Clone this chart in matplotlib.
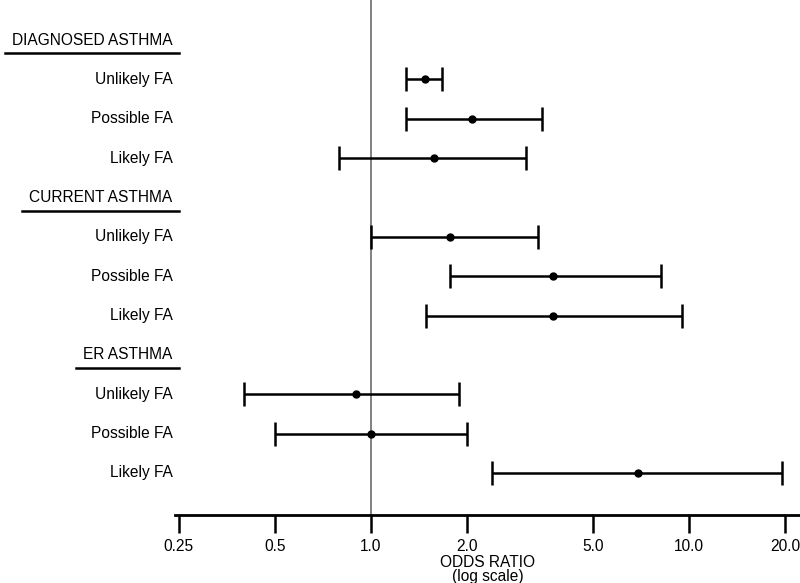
import matplotlib.pyplot as plt
from matplotlib.lines import Line2D

plt.rcParams['font.family'] = ['Liberation Sans', 'DejaVu Sans']

# datos (odds ratio e intervalo de confianza)
grupos = ["DIAGNOSED ASTHMA", "CURRENT ASTHMA", "ER ASTHMA"]
categorias = ["Unlikely FA", "Possible FA", "Likely FA"]
odds = [[1.48, 2.08, 1.58],
        [1.78, 3.73, 3.73],
        [0.90, 1.00, 6.89]]
ic_inf = [[1.29, 1.29, 0.795],
          [1.00, 1.78, 1.49],
          [0.40, 0.50, 2.40]]
ic_sup = [[1.68, 3.45, 3.07],
          [3.35, 8.15, 9.53],
          [1.90, 2.00, 19.6]]
ticks = [0.25, 0.5, 1.0, 2.0, 5.0, 10.0, 20.0]
tick_labels = ["0.25", "0.5", "1.0", "2.0", "5.0", "10.0", "20.0"]

fs = 11.2

fig = plt.figure(figsize=(8, 5.83), dpi=100)
ax = fig.add_axes([175 / 800, 1 - 515 / 583, 625 / 800, 515 / 583])
ax.set_xscale('log')
ax.set_xlim(0.243, 22.3)
ax.set_ylim(12.07, -1.02)

ax.axvline(1.0, color='#777777', lw=1.3, zorder=1)

posiciones = []
for g in range(3):
    for c in range(3):
        y = g * 4 + c + 1
        o = odds[g][c]
        ax.errorbar(o, y, xerr=[[o - ic_inf[g][c]], [ic_sup[g][c] - o]],
                    fmt='o', color='black', ms=5, lw=1.8, capsize=8.5,
                    capthick=1.8, zorder=3)
        posiciones.append((y, categorias[c]))

for y, txt in posiciones:
    ax.text(-0.004, y, txt, transform=ax.get_yaxis_transform(),
            ha='right', va='center', fontsize=fs)

# encabezados subrayados
fig.canvas.draw()
renderer = fig.canvas.get_renderer()
for g in range(3):
    y = g * 4
    t = ax.text(-0.004, y, grupos[g], transform=ax.get_yaxis_transform(),
                ha='right', va='center', fontsize=fs)
    bb = t.get_window_extent(renderer)
    x0 = max(bb.x0 - 7, 0)
    x1 = 179
    ypix = ax.transData.transform((1, y))[1] - 13
    fig.add_artist(Line2D([x0 / 800, x1 / 800], [ypix / 583, ypix / 583],
                          transform=fig.transFigure, color='black', lw=1.8))

ax.set_xticks(ticks)
ax.set_xticklabels(tick_labels, fontsize=fs)
ax.minorticks_off()
ax.set_yticks([])
for s in ['top', 'right', 'left']:
    ax.spines[s].set_visible(False)
ax.spines['bottom'].set_linewidth(2)
ax.tick_params(axis='x', length=13, width=1.8, pad=4)
ax.set_xlabel("ODDS RATIO\n(log scale)", fontsize=fs, labelpad=1, linespacing=0.9)

fig.savefig("out.png", dpi=100)
